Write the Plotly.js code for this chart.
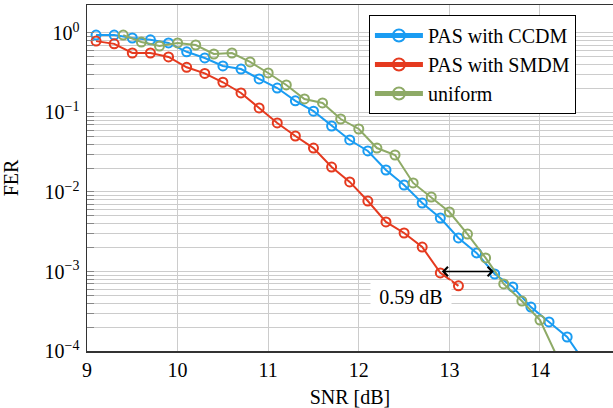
<!DOCTYPE html>
<html>
<head>
<meta charset="utf-8">
<script src="https://cdn.plot.ly/plotly-3.0.1.min.js"></script>
<style>html,body{margin:0;padding:0;background:#fff;}#chart{width:613px;height:408px;}</style>
</head>
<body>
<div id="chart"></div>
<script>
// ---- data ----
const snrCCDM = [9.1,9.3,9.5,9.7,9.9,10.1,10.3,10.5,10.7,10.9,11.1,11.3,11.5,11.7,11.9,12.1,12.3,12.5,12.7,12.9,13.1,13.3,13.5,13.7,13.9,14.1,14.3,14.5];
const ferCCDM = [0.94,0.94,0.865,0.82,0.75,0.58,0.485,0.385,0.352,0.264,0.203,0.14,0.104,0.0676,0.0451,0.0328,0.0189,0.01225,0.00727,0.00471,0.00264,0.00171,0.00093,0.00064,0.000357,0.000232,0.00015,0.00007];

const snrSMDM = [9.1,9.3,9.5,9.7,9.9,10.1,10.3,10.5,10.7,10.9,11.1,11.3,11.5,11.7,11.9,12.1,12.3,12.5,12.7,12.9,13.1];
const ferSMDM = [0.79,0.73,0.56,0.56,0.50,0.37,0.31,0.24,0.176,0.114,0.0738,0.0506,0.0357,0.0206,0.0134,0.0077,0.0042,0.00305,0.00203,0.00096,0.00066];

const snrUniform = [9.4,9.6,9.8,10.0,10.2,10.4,10.6,10.8,11.0,11.2,11.4,11.6,11.8,12.0,12.2,12.4,12.6,12.8,13.0,13.2,13.4,13.6,13.8,14.0,14.2];
const ferUniform = [0.94,0.77,0.686,0.75,0.706,0.544,0.56,0.432,0.314,0.222,0.148,0.132,0.0828,0.062,0.0357,0.0292,0.013,0.00865,0.0056,0.00296,0.00148,0.000697,0.000425,0.000245,0.00008];

const seriesNames = ['PAS with CCDM','PAS with SMDM','uniform'];
const xTickVals = [9,10,11,12,13,14];
const yDecades = [1e-4,1e-3,1e-2,1e-1,1];
const yTickText = ['10<sup>−4</sup>','10<sup>−3</sup>','10<sup>−2</sup>','10<sup>−1</sup>','10<sup>0</sup>'];

// gap annotation
const gapFER = 1e-3;
const gapStartSNR = 12.9;
const gapDb = 0.59;
const gapLabel = '0.59 dB';

// ---- style ----
const colors = ['#1a9cf2','#e53a1f','#8eaa66'];
const FONT = '"Liberation Serif", "Times New Roman", serif';
const FS = 20;

const minorVals = [];
yDecades.slice(0,-1).forEach(d => { for (let k = 2; k <= 9; k++) minorVals.push(d*k); });

function mk(x, y, i) {
  return {
    x: x, y: y, name: seriesNames[i], type: 'scatter', mode: 'lines+markers',
    line: {color: colors[i], width: 2},
    marker: {symbol: 'circle-open', size: 9, color: colors[i], line: {width: 2, color: colors[i]}},
    cliponaxis: true
  };
}

const data = [mk(snrCCDM, ferCCDM, 0), mk(snrSMDM, ferSMDM, 1), mk(snrUniform, ferUniform, 2)];

const layout = {
  width: 613, height: 408,
  margin: {l: 87, r: 0, t: 5, b: 57},
  paper_bgcolor: '#fff', plot_bgcolor: '#fff',
  font: {family: FONT, size: FS, color: '#000'},
  showlegend: true,
  legend: {
    x: 0.536, y: 0.971, xanchor: 'left', yanchor: 'top',
    bgcolor: '#fff', bordercolor: '#000', borderwidth: 1,
    font: {family: FONT, size: FS, color: '#000'},
    itemsizing: 'constant', tracegroupgap: 0, itemwidth: 48,
    entrywidth: 224, entrywidthmode: 'pixels'
  },
  xaxis: {
    range: [9, 14.806],
    tickvals: xTickVals,
    ticks: '', showgrid: true, gridcolor: '#cccccc', gridwidth: 1,
    showline: true, linecolor: '#333', linewidth: 1.5, mirror: true,
    zeroline: false,
    tickfont: {family: FONT, size: FS, color: '#000'},
    ticklabelstandoff: 0,
    title: {text: 'SNR [dB]', font: {family: FONT, size: FS, color: '#000'}, standoff: 13}
  },
  yaxis: {
    type: 'log',
    range: [-4, 0.352],
    tickmode: 'array', tickvals: yDecades, ticktext: yTickText,
    ticks: 'inside', ticklen: 7, tickcolor: '#888', tickwidth: 1,
    showgrid: true, gridcolor: '#cccccc', gridwidth: 1,
    minor: {tickmode: 'array', tickvals: minorVals, showgrid: true, gridcolor: '#cccccc', gridwidth: 1,
            ticks: 'inside', ticklen: 7, tickcolor: '#888', tickwidth: 1},
    showline: true, linecolor: '#333', linewidth: 1.5, mirror: false,
    zeroline: false,
    tickfont: {family: FONT, size: FS, color: '#000'},
    ticklabelstandoff: 2,
    title: {text: 'FER', font: {family: FONT, size: FS, color: '#000'}, standoff: 20}
  },
  annotations: [
    {
      x: gapStartSNR + gapDb, y: Math.log10(gapFER), xref: 'x', yref: 'y',
      ax: gapStartSNR, ay: Math.log10(gapFER), axref: 'x', ayref: 'y',
      showarrow: true, arrowside: 'end+start', arrowhead: 4, startarrowhead: 4,
      arrowsize: 1.3, startarrowsize: 1.3, arrowwidth: 1.4, arrowcolor: '#000', text: ''
    },
    {
      x: 12.575, y: -3.32, xref: 'x', yref: 'y', showarrow: false,
      text: gapLabel, bgcolor: '#fff', borderpad: 4, width: 72, height: 23,
      font: {family: FONT, size: FS, color: '#000'}
    }
  ]
};

Plotly.newPlot('chart', data, layout, {displayModeBar: false, staticPlot: true});
</script>
</body>
</html>
